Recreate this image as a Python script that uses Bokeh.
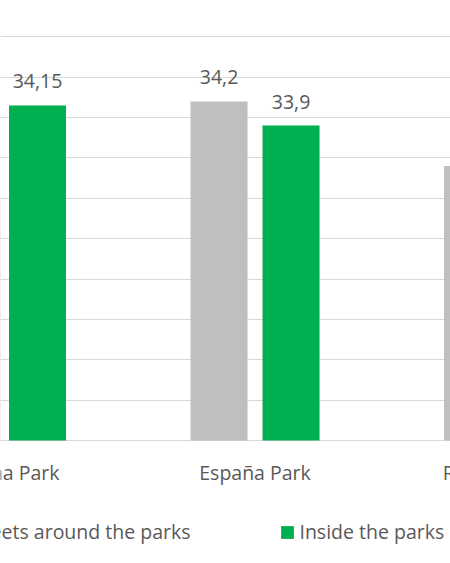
from bokeh.plotting import figure
from bokeh.models import Range1d, FixedTicker, ColumnDataSource, Legend, LegendItem
from bokeh.core.properties import value
from bokeh.embed import file_html
from bokeh.resources import INLINE

# ---- data ----
parks = ["Lezama Park", "España Park", "Rivadavia Park"]
streets_around = [33.0, 34.2, 33.4]
inside_parks = [34.15, 33.9, 33.3]
series_names = ["Streets around the parks", "Inside the parks"]
y_ticks = [30.0, 30.5, 31.0, 31.5, 32.0, 32.5, 33.0, 33.5, 34.0, 34.5, 35.0]

# ---- style ----
GRAY = "#bfbfbf"
GREEN = "#00b050"
TEXT = "#595959"
GRIDC = "#d9d9d9"
FONT = "Open Sans"
FS = "19.5px"

idx = [i + 0.5 for i in range(len(parks))]
bar_w = 0.2249
off = 0.142
base = y_ticks[0]

def fmt(v):
    return ("%g" % v).replace(".", ",")

src = ColumnDataSource(dict(
    xg=[c - off for c in idx],
    xi=[c + off for c in idx],
    streets=streets_around,
    inside=inside_parks,
    lg=[fmt(v) for v in streets_around],
    li=[fmt(v) for v in inside_parks],
))
cat = ColumnDataSource(dict(x=idx, y=[base] * len(parks), name=parks))

p = figure(width=450, height=563, output_backend="svg", toolbar_location=None,
           x_range=Range1d(0.496, 2.271), y_range=Range1d(28.4766, 35.4496),
           min_border_left=0, min_border_right=0, min_border_top=0, min_border_bottom=0,
           x_axis_location=None, y_axis_location=None)
p.outline_line_color = None
p.xgrid.visible = False
p.ygrid.ticker = FixedTicker(ticks=y_ticks)
p.ygrid.grid_line_color = GRIDC
p.ygrid.grid_line_width = 1.2

rg = p.vbar(x="xg", top="streets", bottom=base, width=bar_w, source=src, fill_color=GRAY, line_color=None)
ri = p.vbar(x="xi", top="inside", bottom=base, width=bar_w, source=src, fill_color=GREEN, line_color=None)

p.text(x="xg", y="streets", text="lg", source=src, y_offset=-24, text_align="center",
       text_baseline="alphabetic", text_font=value(FONT), text_font_size=FS, text_color=TEXT)
p.text(x="xi", y="inside", text="li", source=src, y_offset=-24, text_align="center",
       text_baseline="alphabetic", text_font=value(FONT), text_font_size=FS, text_color=TEXT)

# category labels
p.text(x="x", y="y", text="name", source=cat, y_offset=32, text_align="center",
       text_baseline="alphabetic", text_font=value(FONT), text_font_size=FS, text_color=TEXT)

legend = Legend(items=[LegendItem(label=series_names[0], renderers=[rg]),
                       LegendItem(label=series_names[1], renderers=[ri])],
                orientation="horizontal", location=(-55, 18),
                glyph_width=16, glyph_height=16, label_standoff=4, spacing=89,
                padding=0, margin=0, border_line_color=None, background_fill_alpha=0,
                label_text_font=FONT, label_text_font_size=FS, label_text_color=TEXT)
p.add_layout(legend)

open("out.html", "w").write(file_html(p, INLINE))
